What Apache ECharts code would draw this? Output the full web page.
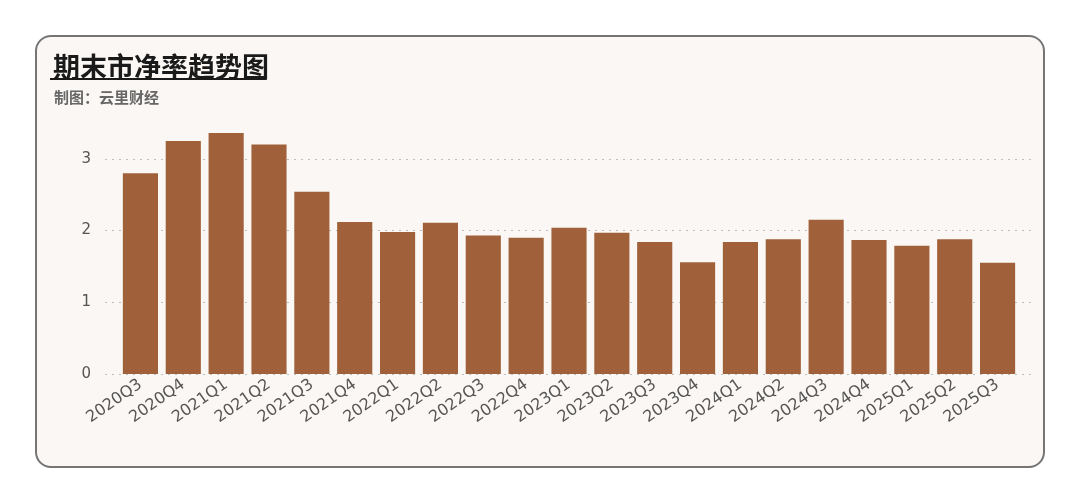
<!DOCTYPE html>
<html>
<head>
<meta charset="utf-8">
<script src="https://cdn.jsdelivr.net/npm/echarts@6/dist/echarts.min.js"></script>
<style>
  html, body { margin: 0; padding: 0; background: #ffffff; }
  #card {
    position: absolute; left: 35px; top: 35px; width: 1006px; height: 429px;
    border: 2px solid #757575; border-radius: 16px; background: #faf7f4;
  }
  #chart { position: absolute; left: 0; top: 0; width: 1080px; height: 503px; }
</style>
</head>
<body>
<div id="card"></div>
<div id="chart"></div>
<script>
// 季度
const quarters = [
  '2020Q3', '2020Q4', '2021Q1', '2021Q2', '2021Q3', '2021Q4', '2022Q1',
  '2022Q2', '2022Q3', '2022Q4', '2023Q1', '2023Q2', '2023Q3', '2023Q4',
  '2024Q1', '2024Q2', '2024Q3', '2024Q4', '2025Q1', '2025Q2', '2025Q3'
]
// 期末市净率
const pbValues = [
  2.80, 3.25, 3.36, 3.20, 2.54, 2.12, 1.98,
  2.11, 1.93, 1.90, 2.04, 1.97, 1.84, 1.56,
  1.84, 1.88, 2.15, 1.87, 1.79, 1.88, 1.55
]
const yTicks = [0, 1, 2, 3]

const myChart = echarts.init(document.getElementById('chart'))
const option = {
  backgroundColor: 'transparent',
  animation: false,
  title: [
    {
      text: '期末市净率趋势图',
      left: 48,
      top: 48,
      textStyle: { fontSize: 27, fontWeight: 'bold', color: '#1a1a1a', fontFamily: 'Noto Sans CJK SC' }
    },
    {
      text: '制图：云里财经',
      left: 49,
      top: 85,
      textStyle: { fontSize: 15, fontWeight: 'bold', color: '#666', fontFamily: 'Noto Sans CJK SC' }
    }
  ],
  graphic: [
    // 标题下划线
    { type: 'rect', shape: { x: 50, y: 78, width: 216, height: 2 }, style: { fill: '#1a1a1a' } }
  ],
  grid: [
    // 柱子
    { left: 119, right: 61, top: 123, bottom: 129 },
    // 分隔线 / y 轴刻度
    { left: 105, right: 48, top: 123, bottom: 129 }
  ],
  xAxis: [
    {
      type: 'category',
      gridIndex: 0,
      data: quarters,
      axisLine: { show: false },
      axisTick: { show: false },
      axisLabel: {
        interval: 0,
        rotate: 35,
        margin: 9,
        color: '#555',
        fontSize: 16,
        fontFamily: 'DejaVu Sans'
      }
    },
    { type: 'value', gridIndex: 1, show: false }
  ],
  yAxis: [
    { type: 'value', gridIndex: 0, min: 0, max: 3.5, show: false },
    {
      type: 'value',
      gridIndex: 1,
      min: yTicks[0],
      max: 3.5,
      interval: 1,
      axisLine: { show: false },
      axisTick: { show: false },
      axisLabel: {
        showMaxLabel: false,
        margin: 14,
        color: '#555',
        fontSize: 15,
        fontFamily: 'DejaVu Sans'
      },
      splitLine: {
        show: true,
        showMaxLine: false,
        lineStyle: { color: '#bdbdbd', width: 1.2, type: [2, 5] }
      }
    }
  ],
  series: [
    {
      type: 'bar',
      xAxisIndex: 0,
      yAxisIndex: 0,
      data: pbValues,
      barCategoryGap: '18%',
      itemStyle: { color: '#a0613a' }
    }
  ]
}
myChart.setOption(option)
window.addEventListener('resize', () => myChart.resize())
</script>
</body>
</html>
